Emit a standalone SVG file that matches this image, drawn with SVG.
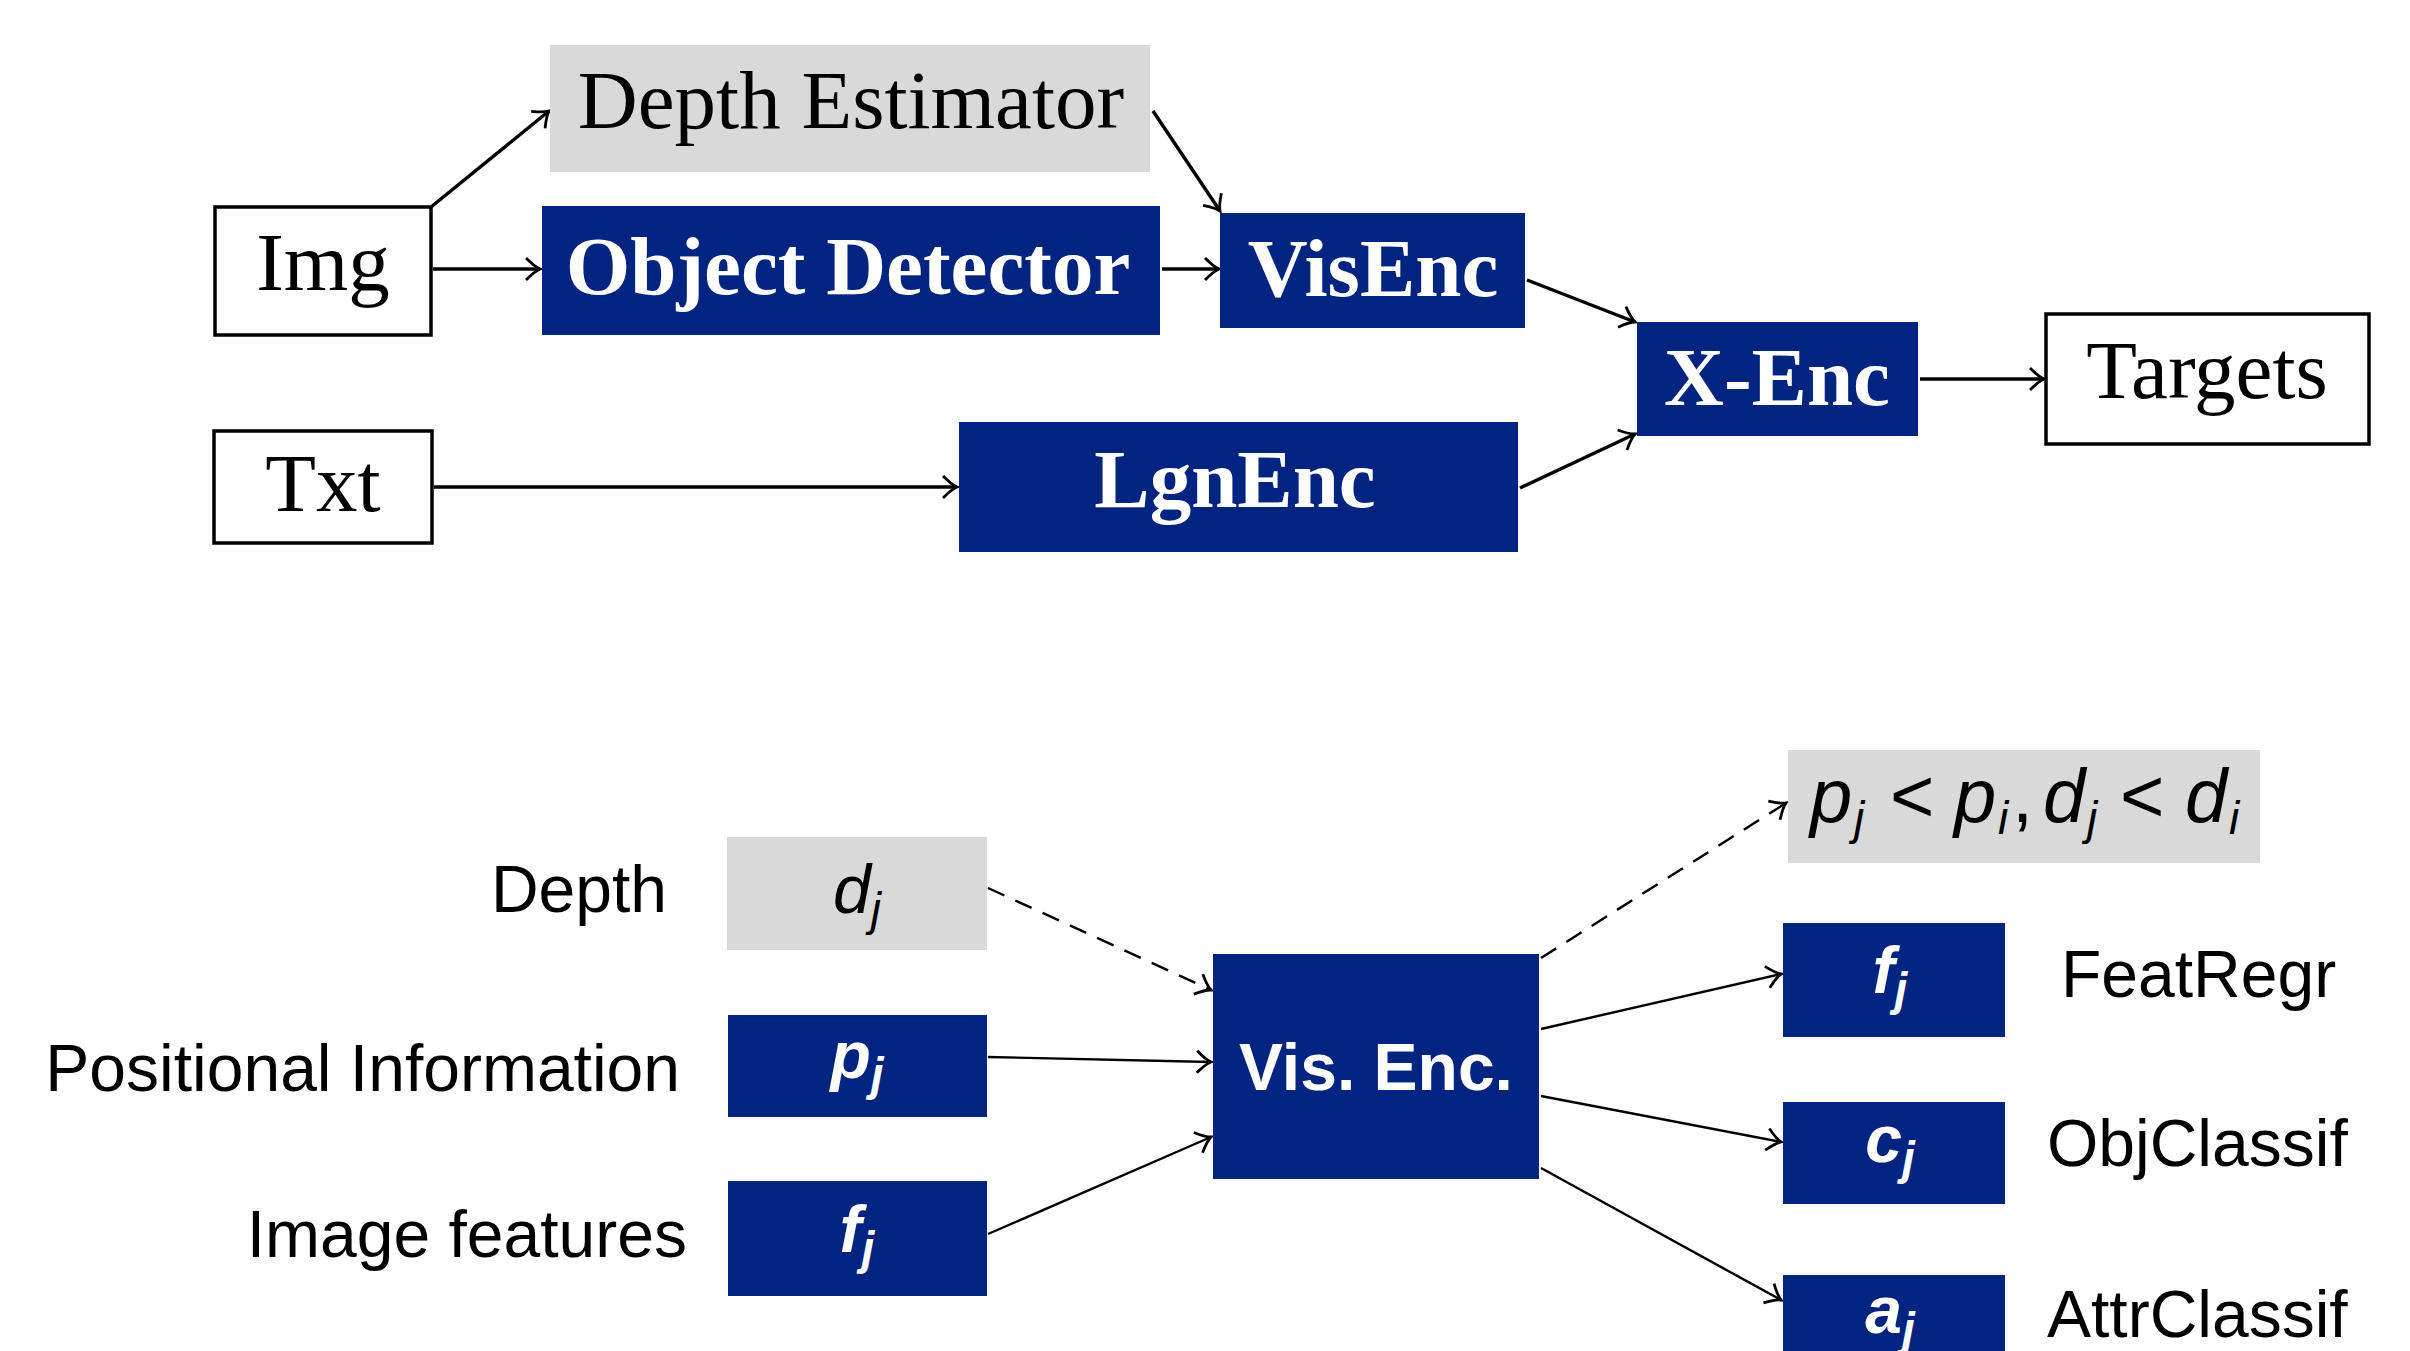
<svg xmlns="http://www.w3.org/2000/svg" width="2410" height="1351" viewBox="0 0 2410 1351">
<style>
.blue{fill:#012480}
.gray{fill:#d9d9d9}
.wbox{fill:#fff;stroke:#000;stroke-width:3.5}
.serif{font-family:"Liberation Serif","Times New Roman",serif;font-size:83px}
.sb{font-weight:bold;fill:#fff}
.sans{font-family:"Liberation Sans",Arial,sans-serif;font-size:66px;fill:#000}
.math{font-family:"Liberation Sans",Arial,sans-serif;font-style:italic}
.mw{font-weight:bold;fill:#fff;font-size:66px}
.sub{font-size:46px}
.c{text-anchor:middle}
.e{text-anchor:end}
.l1{fill:none;stroke:#000;stroke-width:3.4}
.l2{fill:none;stroke:#000;stroke-width:2.4}
.dash{stroke-dasharray:18 12}
</style>
<defs>
<marker id="ah" markerUnits="userSpaceOnUse" markerWidth="40" markerHeight="40" viewBox="-20 -20 40 40" refX="0" refY="0" orient="auto">
<path d="M -14 -11 Q -5 -2 0 0 Q -5 2 -14 11" fill="none" stroke="#000" stroke-width="2.8"/>
</marker>
</defs>

<g id="connectors">
<line class="l1" x1="431" y1="207" x2="549" y2="111" marker-end="url(#ah)"/>
<line class="l1" x1="433" y1="269" x2="540" y2="269" marker-end="url(#ah)"/>
<line class="l1" x1="1153" y1="111" x2="1220" y2="211" marker-end="url(#ah)"/>
<line class="l1" x1="1162" y1="269" x2="1219" y2="269" marker-end="url(#ah)"/>
<line class="l1" x1="434" y1="487" x2="957" y2="487" marker-end="url(#ah)"/>
<line class="l1" x1="1527" y1="280" x2="1635" y2="322" marker-end="url(#ah)"/>
<line class="l1" x1="1520" y1="488" x2="1635" y2="434" marker-end="url(#ah)"/>
<line class="l1" x1="1920" y1="379" x2="2044" y2="379" marker-end="url(#ah)"/>

<line class="l2 dash" x1="988" y1="888" x2="1211" y2="990" marker-end="url(#ah)"/>
<line class="l2" x1="988" y1="1057" x2="1211" y2="1062" marker-end="url(#ah)"/>
<line class="l2" x1="988" y1="1234" x2="1211" y2="1137" marker-end="url(#ah)"/>
<line class="l2 dash" x1="1541" y1="958" x2="1786" y2="803" marker-end="url(#ah)"/>
<line class="l2" x1="1541" y1="1029" x2="1781" y2="974" marker-end="url(#ah)"/>
<line class="l2" x1="1541" y1="1096" x2="1781" y2="1142" marker-end="url(#ah)"/>
<line class="l2" x1="1541" y1="1168" x2="1781" y2="1300" marker-end="url(#ah)"/>
</g>

<g id="depth-estimator"><rect class="gray" x="550" y="45" width="600" height="127"/><text class="serif c" x="851" y="128">Depth Estimator</text></g>
<g id="img"><rect class="wbox" x="215" y="207" width="216" height="128"/><text class="serif c" x="323" y="290">Img</text></g>
<g id="object-detector"><rect class="blue" x="542" y="206" width="618" height="129"/><text class="serif sb c" x="848" y="294">Object Detector</text></g>
<g id="visenc"><rect class="blue" x="1220" y="213" width="305" height="115"/><text class="serif sb c" x="1373" y="296">VisEnc</text></g>
<g id="xenc"><rect class="blue" x="1637" y="322" width="281" height="114"/><text class="serif sb c" x="1777" y="405">X-Enc</text></g>
<g id="targets"><rect class="wbox" x="2046" y="314" width="323" height="130"/><text class="serif c" x="2207" y="398">Targets</text></g>
<g id="txt"><rect class="wbox" x="214" y="431" width="218" height="112"/><text class="serif c" x="323" y="511">Txt</text></g>
<g id="lgnenc"><rect class="blue" x="959" y="422" width="559" height="130"/><text class="serif sb c" x="1235" y="507">LgnEnc</text></g>

<g id="label-depth"><text class="sans e" x="667" y="912">Depth</text></g>
<g id="label-positional"><text class="sans e" x="680" y="1091">Positional Information</text></g>
<g id="label-image-features"><text class="sans e" x="687" y="1257">Image features</text></g>

<g id="dj"><rect class="gray" x="727" y="837" width="260" height="113"/><text class="math c" x="857" y="913" font-size="68">d<tspan class="sub" dy="12">j</tspan></text></g>
<g id="pj"><rect class="blue" x="728" y="1015" width="259" height="102"/><text class="math mw c" x="857" y="1078">p<tspan class="sub" dy="12">j</tspan></text></g>
<g id="fj-in"><rect class="blue" x="728" y="1181" width="259" height="115"/><text class="math mw c" x="857" y="1252">f<tspan class="sub" dy="12">j</tspan></text></g>

<g id="vis-enc"><rect class="blue" x="1213" y="954" width="326" height="225"/><text class="c" x="1376" y="1090" font-family="Liberation Sans, Arial, sans-serif" font-weight="bold" font-size="66" fill="#fff">Vis. Enc.</text></g>

<g id="order-constraint"><rect class="gray" x="1788" y="750" width="472" height="113"/>
<text class="math" y="822" font-size="76"><tspan x="1810">p</tspan><tspan class="sub" x="1854" dy="12">j</tspan><tspan x="1890" dy="-12" font-style="normal">&lt;</tspan><tspan x="1954">p</tspan><tspan class="sub" x="1998" dy="12">i</tspan><tspan x="2012" dy="-12" font-style="normal">,</tspan><tspan x="2043">d</tspan><tspan class="sub" x="2087" dy="12">j</tspan><tspan x="2120" dy="-12" font-style="normal">&lt;</tspan><tspan x="2185">d</tspan><tspan class="sub" x="2229" dy="12">i</tspan></text></g>

<g id="fj-out"><rect class="blue" x="1783" y="923" width="222" height="114"/><text class="math mw c" x="1890" y="993">f<tspan class="sub" dy="12">j</tspan></text></g>
<g id="label-featregr"><text class="sans" x="2061" y="997">FeatRegr</text></g>
<g id="cj"><rect class="blue" x="1783" y="1102" width="222" height="102"/><text class="math mw c" x="1890" y="1162">c<tspan class="sub" dy="12">j</tspan></text></g>
<g id="label-objclassif"><text class="sans" x="2047" y="1166">ObjClassif</text></g>
<g id="aj"><rect class="blue" x="1783" y="1275" width="222" height="90"/><text class="math mw c" x="1890" y="1333">a<tspan class="sub" dy="12">j</tspan></text></g>
<g id="label-attrclassif"><text class="sans" x="2047" y="1337">AttrClassif</text></g>
</svg>
